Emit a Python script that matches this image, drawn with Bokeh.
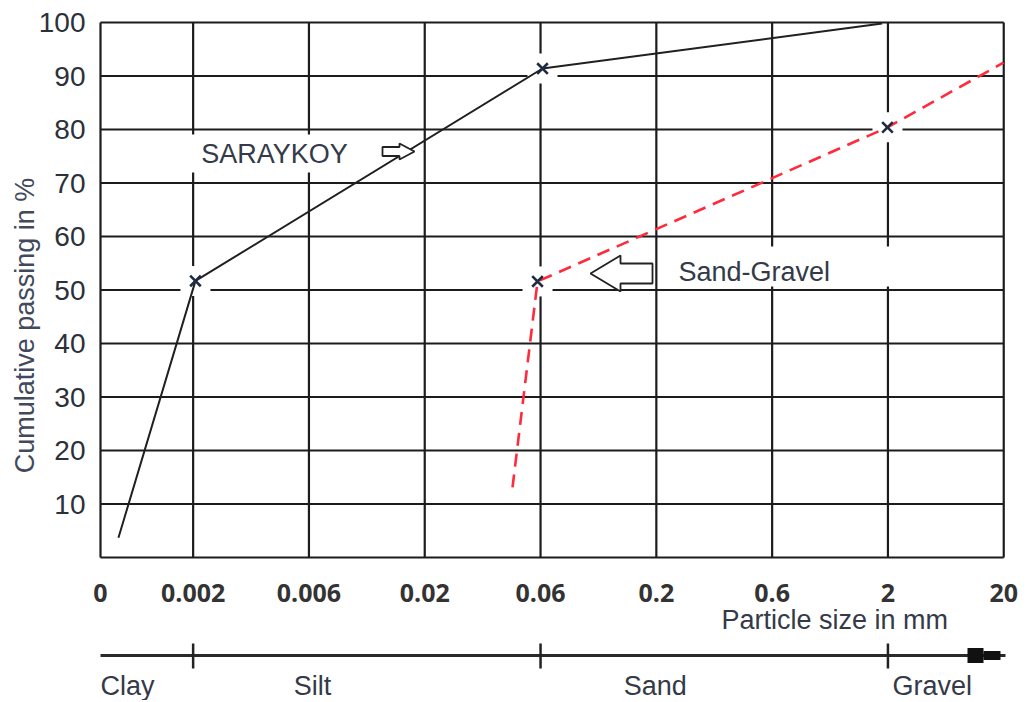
import math
from bokeh.plotting import figure
from bokeh.models import Range1d, ColumnDataSource
from bokeh.core.properties import value, field
from bokeh.embed import file_html
from bokeh.resources import INLINE

# ---------------- data ----------------
X_TICK_LABELS = ["0", "0.002", "0.006", "0.02", "0.06", "0.2", "0.6", "2", "20"]
X_TICK_POS = [0.0, 0.8, 1.8, 2.8, 3.8, 4.8, 5.8, 6.8, 7.8]
Y_TICKS = [10, 20, 30, 40, 50, 60, 70, 80, 90, 100]
Y_GRID = [0, 10, 20, 30, 40, 50, 60, 70, 80, 90, 100]

SARAYKOY_X = [0.155, 0.82, 3.817, 6.75]
SARAYKOY_Y = [3.7, 51.7, 91.4, 99.8]
SARAYKOY_MARKED = [1, 2]

SANDGRAVEL_X = [3.558, 3.774, 6.796, 7.798]
SANDGRAVEL_Y = [13.1, 51.6, 80.4, 92.5]
SANDGRAVEL_MARKED = [1, 2]

CLASS_NAMES = ["Clay", "Silt", "Sand", "Gravel"]
CLASS_POS = [0.0, 1.83, 4.79, 6.84]
CLASS_ALIGN = ["left", "center", "center", "left"]
CLASS_BOUNDS = [0.8, 3.8, 6.8]

# ---------------- layout ----------------
W, H = 1024, 700
PXU = 115.8      # pixels per x unit
PXV = 5.35       # pixels per y unit
OX, OY = 100, 557  # figure pixel of (0, 0)

p = figure(width=W, height=H, output_backend="svg", toolbar_location=None,
           x_range=Range1d(-OX / PXU, (W - OX) / PXU),
           y_range=Range1d(-(H - OY) / PXV, OY / PXV),
           x_axis_location=None, y_axis_location=None,
           min_border=0, min_border_left=0, min_border_right=0,
           min_border_top=0, min_border_bottom=0)
p.outline_line_color = None
p.xgrid.visible = False
p.ygrid.visible = False
p.background_fill_color = "white"
p.border_fill_color = "white"

ARIAL = value("Liberation Sans")
TXT = "#343a48"
GRID = "#1c1c1c"


def u(px):
    return (px - OX) / PXU


def v(py):
    return (OY - py) / PXV


# grid
p.segment(x0=[X_TICK_POS[0]] * len(Y_GRID), x1=[X_TICK_POS[-1]] * len(Y_GRID),
          y0=Y_GRID, y1=Y_GRID, line_color=GRID, line_width=2.2)
p.segment(x0=X_TICK_POS, x1=X_TICK_POS, y0=[0] * len(X_TICK_POS),
          y1=[100] * len(X_TICK_POS), line_color=GRID, line_width=2.2)

# white halos around markers
hx = [SARAYKOY_X[i] for i in SARAYKOY_MARKED] + [SANDGRAVEL_X[i] for i in SANDGRAVEL_MARKED]
hy = [SARAYKOY_Y[i] for i in SARAYKOY_MARKED] + [SANDGRAVEL_Y[i] for i in SANDGRAVEL_MARKED]
p.scatter(hx, hy, marker="square", size=30, fill_color="white", line_color=None)

# series labels (white boxes)
p.text(x=[u(277)], y=[v(153)], text=["SARAYKOY"],
       text_align="center", text_baseline="middle", text_font=ARIAL,
       text_font_size="27px", text_color=TXT, background_fill_color="white",
       padding=dict(left=14, right=20, top=4, bottom=4))
p.text(x=[u(668)], y=[v(266)], text=["Sand-Gravel"],
       text_align="left", text_baseline="middle", text_font=ARIAL,
       text_font_size="27px", text_color=TXT, background_fill_color="white",
       padding=dict(left=10, right=165, top=10, bottom=0))

# data lines
p.line(SARAYKOY_X, SARAYKOY_Y, line_color="#202020", line_width=2)
p.line(SANDGRAVEL_X, SANDGRAVEL_Y, line_color="#ff2b3c", line_width=2.6,
       line_dash="13 8")

mx = [SARAYKOY_X[i] for i in SARAYKOY_MARKED] + [SANDGRAVEL_X[i] for i in SANDGRAVEL_MARKED]
my = [SARAYKOY_Y[i] for i in SARAYKOY_MARKED] + [SANDGRAVEL_Y[i] for i in SANDGRAVEL_MARKED]
p.scatter(mx, my, marker="x", size=15, line_color="#1f2a44", line_width=2.6)


def block_arrow(tip_u, tip_v, direction, total, head, head_half, body_half):
    d = direction
    pts = [(0, 0), (-d * head, -head_half), (-d * head, -body_half),
           (-d * total, -body_half), (-d * total, body_half),
           (-d * head, body_half), (-d * head, head_half)]
    us = [tip_u + px / PXU for px, _ in pts]
    vs = [tip_v - py / PXV for _, py in pts]
    p.patch(us, vs, fill_color="white", line_color="#222222", line_width=1.8)


block_arrow(u(414), v(151), 1, 32, 15, 8, 4.5)
block_arrow(u(590), v(273), -1, 62, 30, 18, 10)

# x tick labels
p.text(x=X_TICK_POS, y=[v(592)] * len(X_TICK_POS), text=X_TICK_LABELS,
       text_align="center", text_baseline="middle", text_font=value("Open Sans"),
       text_font_style="bold", text_font_size="25px", text_color="#333333")

# y tick labels
p.text(x=[u(85)] * len(Y_TICKS), y=Y_TICKS, text=[str(t) for t in Y_TICKS],
       text_align="right", text_baseline="middle", text_font=ARIAL,
       text_font_size="28px", text_color="#2c303a")

# y axis title
p.text(x=[u(24)], y=[v(325)], text=["Cumulative passing in %"],
       angle=math.pi / 2, text_align="center", text_baseline="middle",
       text_font=ARIAL, text_font_size="27px", text_color="#414a5c")

# x axis title
p.text(x=[u(721)], y=[v(619)], text=["Particle size in mm"],
       text_align="left", text_baseline="middle", text_font=ARIAL,
       text_font_size="27px", text_color=TXT)

# soil classification bar
bar_v = v(655)
p.segment(x0=[0], x1=[u(1005)], y0=[bar_v], y1=[bar_v],
          line_color="#2a2a2a", line_width=3)
p.segment(x0=[u(967)], x1=[u(983)], y0=[bar_v], y1=[bar_v],
          line_color="#111111", line_width=15)
p.segment(x0=[u(983)], x1=[u(1000)], y0=[bar_v], y1=[bar_v],
          line_color="#111111", line_width=9)
p.segment(x0=CLASS_BOUNDS, x1=CLASS_BOUNDS,
          y0=[v(643)] * len(CLASS_BOUNDS), y1=[v(668)] * len(CLASS_BOUNDS),
          line_color="#222222", line_width=2.5)

cls = ColumnDataSource(dict(x=CLASS_POS, y=[v(685)] * len(CLASS_POS),
                            t=CLASS_NAMES, a=CLASS_ALIGN))
p.text(x="x", y="y", text="t", source=cls, text_align=field("a"),
       text_baseline="middle", text_font=ARIAL, text_font_size="27px",
       text_color=TXT)

open("out.html", "w").write(file_html(p, INLINE))
